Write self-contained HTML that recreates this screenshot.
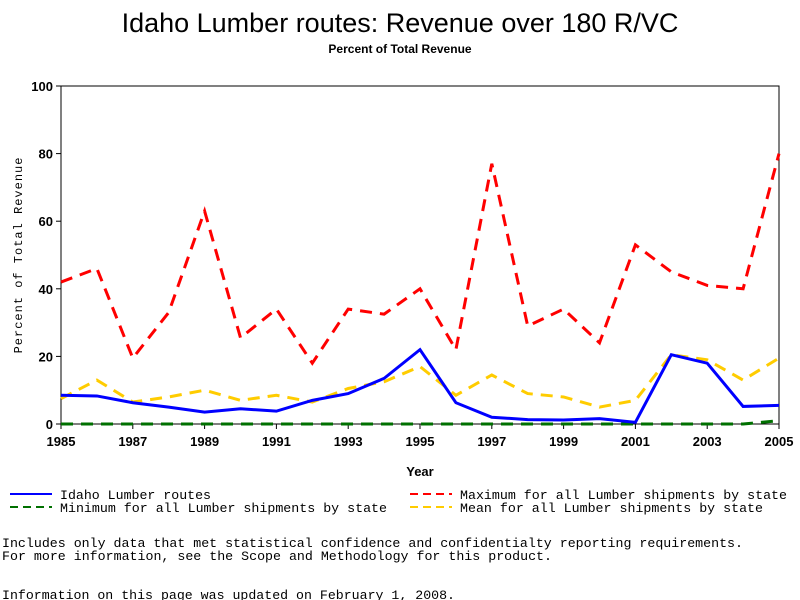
<!DOCTYPE html>
<html><head><meta charset="utf-8"><style>
body{margin:0;background:#fff;}
svg{display:block;font-family:"Liberation Sans",sans-serif;}
.mono{font-family:"Liberation Mono",monospace;}
</style></head><body>
<svg id="chart" width="800" height="600">
<text x="400" y="32" text-anchor="middle" font-size="27">Idaho Lumber routes: Revenue over 180 R/VC</text>
<text x="400" y="53" text-anchor="middle" font-size="12" font-weight="bold">Percent of Total Revenue</text>
<g id="plot"></g>
<text transform="translate(22,255) rotate(-90)" text-anchor="middle" font-size="12" class="mono" letter-spacing="1">Percent of Total Revenue</text>
<text x="420" y="476" text-anchor="middle" font-size="13" font-weight="bold">Year</text>
<g>
<line x1="10" y1="494" x2="52" y2="494" stroke="#0000ff" stroke-width="2"/>
<text x="60" y="499" font-size="13" class="mono" textLength="151" lengthAdjust="spacingAndGlyphs">Idaho Lumber routes</text>
<line x1="10" y1="507" x2="52" y2="507" stroke="#007000" stroke-width="2" stroke-dasharray="8,5"/>
<text x="60" y="512" font-size="13" class="mono" textLength="327" lengthAdjust="spacingAndGlyphs">Minimum for all Lumber shipments by state</text>
<line x1="410" y1="494" x2="452" y2="494" stroke="#ff0000" stroke-width="2" stroke-dasharray="8,5"/>
<text x="460" y="499" font-size="13" class="mono" textLength="327" lengthAdjust="spacingAndGlyphs">Maximum for all Lumber shipments by state</text>
<line x1="410" y1="507" x2="452" y2="507" stroke="#ffcc00" stroke-width="2" stroke-dasharray="8,5"/>
<text x="460" y="512" font-size="13" class="mono" textLength="303" lengthAdjust="spacingAndGlyphs">Mean for all Lumber shipments by state</text>
</g>
<text x="2" y="547" font-size="13" class="mono" textLength="741" lengthAdjust="spacingAndGlyphs">Includes only data that met statistical confidence and confidentialty reporting requirements.</text>
<text x="2" y="560" font-size="13" class="mono" textLength="550" lengthAdjust="spacingAndGlyphs">For more information, see the Scope and Methodology for this product.</text>
<text x="2" y="599" font-size="13" class="mono" textLength="453" lengthAdjust="spacingAndGlyphs">Information on this page was updated on February 1, 2008.</text>
</svg>
<script>
const years=[1985,1986,1987,1988,1989,1990,1991,1992,1993,1994,1995,1996,1997,1998,1999,2000,2001,2002,2003,2004,2005];
const idaho=[8.5,8.3,6.3,5,3.5,4.5,3.8,7,9,13.5,22,6.3,2,1.3,1.2,1.6,0.5,20.5,18,5.2,5.5];
const maximum=[42,46,19.5,33,63,25.5,34,18,34,32.5,40,22,77,29,34,24,53,45,41,40,80];
const minimum=[0,0,0,0,0,0,0,0,0,0,0,0,0,0,0,0,0,0,0,0,1];
const mean=[7.5,13,6.5,8,10,7,8.5,6.5,10.5,12.5,17,8.5,14.5,9,8,5,7,20.5,19,13,19.5];
const yTicks=[0,20,40,60,80,100];
const xTicks=[1985,1987,1989,1991,1993,1995,1997,1999,2001,2003,2005];
const X0=61,X1=779,Y0=424,Y1=86;
const xs=v=>X0+(v-1985)/20*(X1-X0);
const ys=v=>Y0-v/100*(Y0-Y1);
const NS='http://www.w3.org/2000/svg';
const g=document.getElementById('plot');
function mk(t,a){const e=document.createElementNS(NS,t);for(const k in a)e.setAttribute(k,a[k]);g.appendChild(e);return e;}
const frame=mk('rect',{x:X0,y:Y1,width:X1-X0,height:Y0-Y1,fill:'none',stroke:'#000','stroke-width':1});


yTicks.forEach(v=>{
 const l=mk('line',{x1:X0-5,x2:X0,y1:ys(v),y2:ys(v),stroke:'#000'});
 
 
 const t=mk('text',{x:X0-8,y:ys(v)+5,'text-anchor':'end','font-size':13,'font-weight':'bold'});
 t.textContent=v;
 
 
});
xTicks.forEach(v=>{
 const l=mk('line',{x1:xs(v),x2:xs(v),y1:Y0,y2:Y0+5,stroke:'#000'});
 
 
 const t=mk('text',{x:xs(v),y:Y0+22,'text-anchor':'middle','font-size':13,'font-weight':'bold'});
 t.textContent=v;
 
 
});
function series(vals,color,dash,name){
 const p=mk('polyline',{points:vals.map((v,i)=>xs(years[i])+','+ys(v)).join(' '),fill:'none',stroke:color,'stroke-width':3,'stroke-dasharray':dash});
 
 
}
series(minimum,'#007000','12,8','series-minimum');
series(maximum,'#ff0000','12,8','series-maximum');
series(mean,'#ffcc00','12,8','series-mean');
series(idaho,'#0000ff','none','series-idaho');
</script>
</body></html>
